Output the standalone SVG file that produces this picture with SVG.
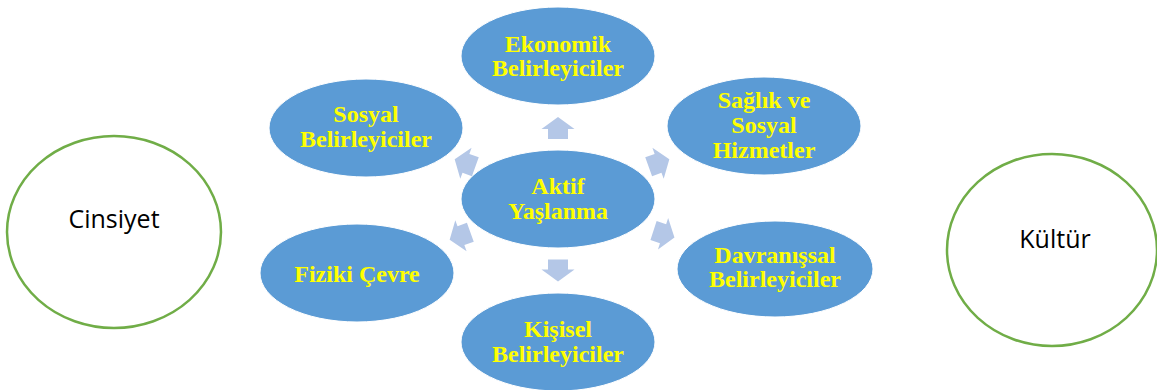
<svg xmlns="http://www.w3.org/2000/svg" width="1157" height="390" viewBox="0 0 1157 390">
  <defs>
    <style>
      .sat { fill: #5B9BD5; stroke: #FFFFFF; stroke-width: 1; }
      .lbl { font-family: "Liberation Serif", "Times New Roman", serif; font-weight: bold; font-size: 24px; fill: #FFFF00; text-anchor: middle; }
      .outer { fill: #FFFFFF; stroke: #70AD47; stroke-width: 2.5; }
      .olbl { font-family: "Open Sans", "Noto Sans", sans-serif; font-size: 25px; fill: #000000; text-anchor: middle; }
      .arr { fill: #B4C7E7; }
    </style>
    <polygon id="blockArrow" points="0,-11 16.5,1 10,1 10,11 -10,11 -10,1 -16.5,1"/>
  </defs>
  <rect width="1157" height="390" fill="#FFFFFF"/>

  <g id="connectors" class="arr">
    <use href="#blockArrow" transform="translate(558,128)"/>
    <use href="#blockArrow" transform="translate(659,163) rotate(70)"/>
    <use href="#blockArrow" transform="translate(664,234) rotate(108)"/>
    <use href="#blockArrow" transform="translate(558,270.5) rotate(180)"/>
    <use href="#blockArrow" transform="translate(460,236) rotate(250)"/>
    <use href="#blockArrow" transform="translate(465,163) rotate(290)"/>
  </g>

  <g id="cinsiyet">
    <ellipse class="outer" cx="114" cy="232" rx="107" ry="96"/>
    <text class="olbl" x="114" y="228">Cinsiyet</text>
  </g>
  <g id="kultur">
    <ellipse class="outer" cx="1052" cy="250" rx="105" ry="96"/>
    <text class="olbl" x="1055" y="248">Kültür</text>
  </g>

  <g id="aktif">
    <ellipse class="sat" cx="558" cy="199" rx="97" ry="49"/>
    <text class="lbl" x="558" y="194">Aktif</text>
    <text class="lbl" x="558" y="219">Yaşlanma</text>
  </g>
  <g id="ekonomik">
    <ellipse class="sat" cx="558" cy="56" rx="97" ry="49"/>
    <text class="lbl" x="558" y="52">Ekonomik</text>
    <text class="lbl" x="558" y="76">Belirleyiciler</text>
  </g>
  <g id="saglik">
    <ellipse class="sat" cx="764" cy="126" rx="97" ry="49"/>
    <text class="lbl" x="764" y="108">Sağlık ve</text>
    <text class="lbl" x="764" y="133">Sosyal</text>
    <text class="lbl" x="764" y="158">Hizmetler</text>
  </g>
  <g id="davranissal">
    <ellipse class="sat" cx="775" cy="269" rx="98" ry="48"/>
    <text class="lbl" x="775" y="263">Davranışsal</text>
    <text class="lbl" x="775" y="287">Belirleyiciler</text>
  </g>
  <g id="kisisel">
    <ellipse class="sat" cx="558" cy="342" rx="97" ry="49"/>
    <text class="lbl" x="558" y="337">Kişisel</text>
    <text class="lbl" x="558" y="362">Belirleyiciler</text>
  </g>
  <g id="fiziki">
    <ellipse class="sat" cx="357" cy="273" rx="97" ry="49"/>
    <text class="lbl" x="357" y="282">Fiziki Çevre</text>
  </g>
  <g id="sosyal">
    <ellipse class="sat" cx="366" cy="128" rx="97" ry="49"/>
    <text class="lbl" x="366" y="122">Sosyal</text>
    <text class="lbl" x="366" y="147">Belirleyiciler</text>
  </g>
</svg>
